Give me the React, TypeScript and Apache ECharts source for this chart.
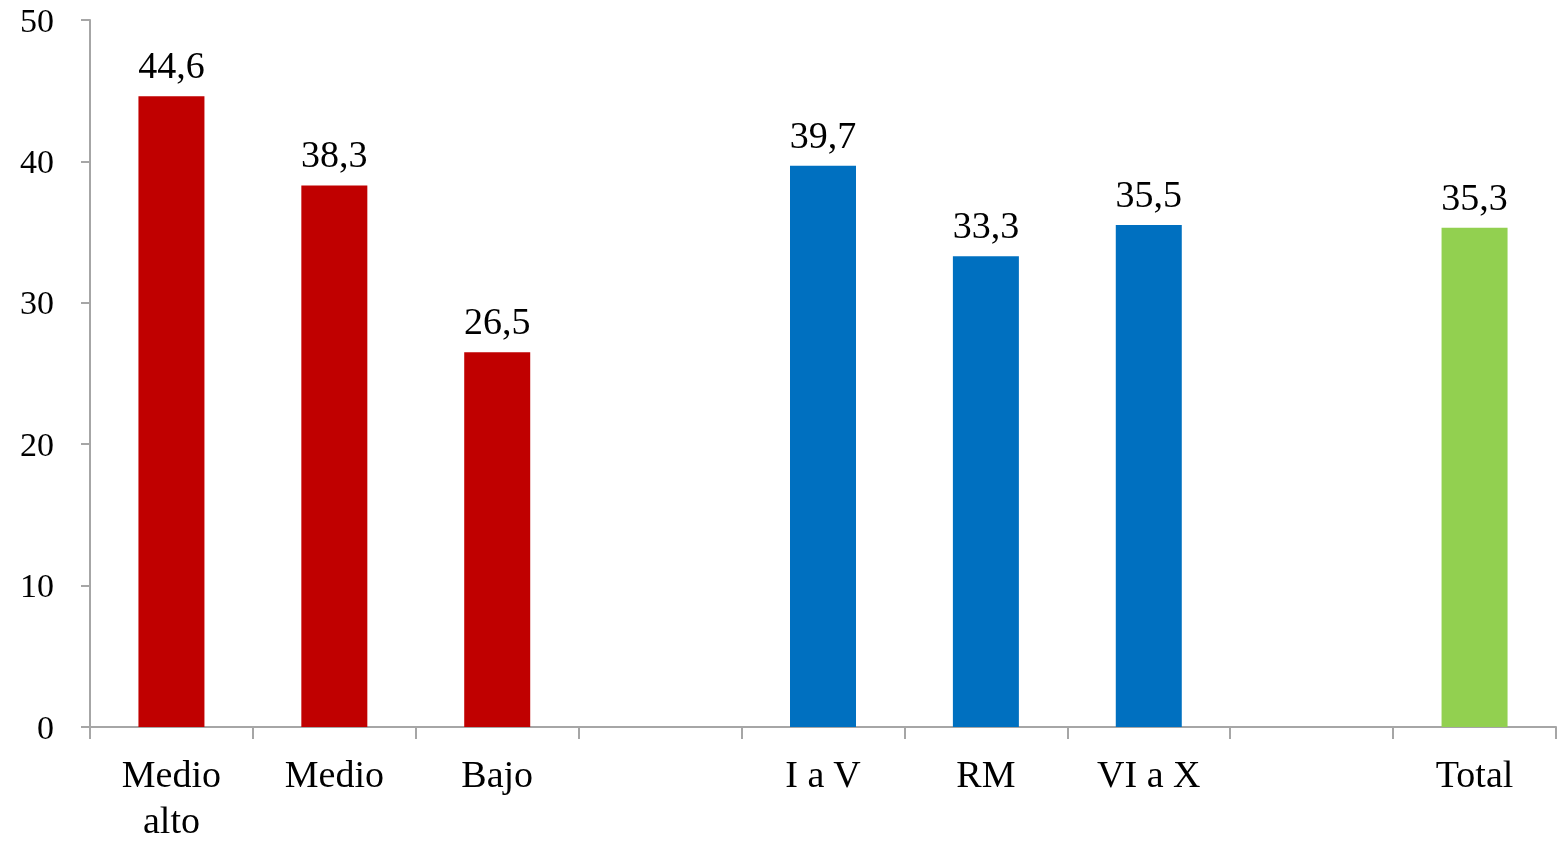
import React, { useEffect, useRef } from "react";
import * as echarts from "echarts";

const categories = ["Medio\nalto", "Medio", "Bajo", "", "I a V", "RM", "VI a X", "", "Total"];
const values: (number | null)[] = [44.6, 38.3, 26.5, null, 39.7, 33.3, 35.5, null, 35.3];
const colors = ["#C00000", "#C00000", "#C00000", "#FFFFFF", "#0070C0", "#0070C0", "#0070C0", "#FFFFFF", "#92D050"];

export default function App() {
  const ref = useRef<HTMLDivElement>(null);
  useEffect(() => {
    const chart = echarts.init(ref.current!, undefined, { renderer: "svg" });
    chart.setOption({
      animation: false,
      grid: { left: 90, right: 1, top: 20, bottom: 114 },
      xAxis: {
        type: "category",
        data: categories,
        axisLine: { lineStyle: { color: "#A6A6A6", width: 2 } },
        axisTick: { show: true, length: 12, lineStyle: { color: "#A6A6A6", width: 2 }, alignWithLabel: false },
        axisLabel: {
          interval: 0,
          color: "#000",
          fontFamily: "Liberation Serif",
          fontSize: 38,
          lineHeight: 46,
          margin: 24,
        },
      },
      yAxis: {
        type: "value",
        min: 0,
        max: 50,
        interval: 10,
        splitLine: { show: false },
        axisLine: { show: true, lineStyle: { color: "#A6A6A6", width: 2 } },
        axisTick: { show: true, length: 9, lineStyle: { color: "#A6A6A6", width: 2 } },
        axisLabel: {
          color: "#000",
          fontFamily: "Liberation Serif",
          fontSize: 34,
          margin: 36,
        },
      },
      series: [
        {
          type: "bar",
          barWidth: 66,
          data: values.map((v, i) => ({ value: v, itemStyle: { color: colors[i] } })),
          label: {
            show: true,
            position: "top",
            distance: 12,
            color: "#000",
            fontFamily: "Liberation Serif",
            fontSize: 38,
            formatter: (p: any) => (p.value == null ? "" : String(p.value).replace(".", ",")),
          },
        },
      ],
    });
    return () => chart.dispose();
  }, []);
  return <div ref={ref} style={{ position: "fixed", left: 0, top: 0, width: 1557, height: 843 }} />;
}
